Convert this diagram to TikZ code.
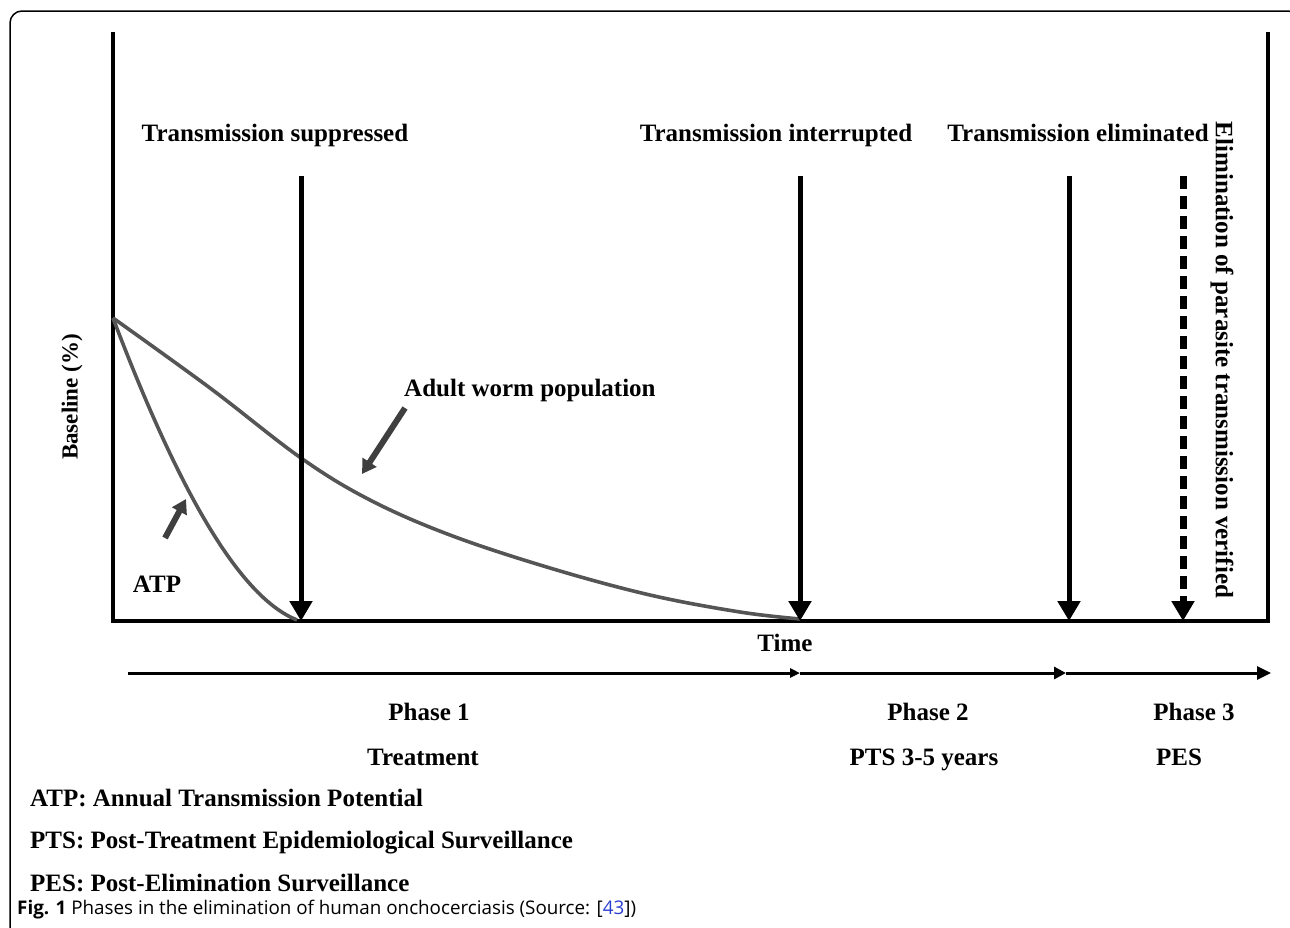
\documentclass[tikz,border=0pt]{standalone}
\usepackage{fontspec}
\setmainfont{Liberation Serif}
\newfontfamily\capfont{Open Sans}
\usetikzlibrary{arrows.meta}
\definecolor{curvegray}{HTML}{555555}
\definecolor{ptrgray}{HTML}{3F3F3F}
\definecolor{reflink}{HTML}{2A3FD0}
\tikzset{
  lbl/.style={font=\fontsize{25}{29}\selectfont\bfseries, inner sep=0pt, anchor=base},
  axisline/.style={line width=4pt, black},
  droparrow/.style={line width=5pt, black, -{Triangle[width=22pt,length=20pt]}},
  dropdashed/.style={line width=7pt, black, dash pattern=on 13pt off 7pt, -{Triangle[width=22pt,length=20pt]}},
  curve/.style={line width=3.6pt, curvegray},
  pointer/.style={line width=6pt, ptrgray, -{Triangle[width=16pt,length=14pt]}},
  timeline/.style={line width=3pt, black},
  legend/.style={font=\fontsize{25}{29}\selectfont\bfseries, inner sep=0pt, anchor=base west},
}
\begin{document}
\begin{tikzpicture}[x=1pt,y=-1pt]
\useasboundingbox (0,0) rectangle (1290,927);
\clip (0,0) rectangle (1290,927);
% outer frame
\draw[line width=1.5pt, rounded corners=12pt] (10,11) rectangle (1300,960);

% axes
\coordinate (tl) at (113,32);
\coordinate (bl) at (113,621);
\coordinate (br) at (1268,621);
\coordinate (tr) at (1268,32);
\draw[axisline] (tl) -- (bl) -- (br) -- (tr);

% top labels
\node[lbl] (tsup) at (275,141) {Transmission suppressed};
\node[lbl] (tint) at (776,141) {Transmission interrupted};
\node[lbl] (telim) at (1078,141) {Transmission eliminated};
\node[lbl, anchor=center, rotate=-90] (verif) at (1222,360) {Elimination of parasite transmission verified};
\node[lbl, anchor=center, font=\fontsize{23}{27}\selectfont\bfseries, rotate=90] (base) at (72,397) {Baseline (\%)};

% drop arrows
\coordinate (a1s) at (301,176); \coordinate (a1e) at (301,621);
\coordinate (a2s) at (800,176); \coordinate (a2e) at (800,621);
\coordinate (a3s) at (1069,176); \coordinate (a3e) at (1069,621);
\coordinate (a4s) at (1183,176); \coordinate (a4e) at (1183,621);

% curves
\draw[curve] plot[smooth, tension=0.6] coordinates {(113,318) (210,388) (301,458) (370,500) (450,535) (550,568) (650,595) (740,612) (800,619)};
\draw[curve] (113,318) .. controls (182,500) and (242,598) .. (297,620);

\draw[droparrow] (a1s) -- (a1e);
\draw[droparrow] (a2s) -- (a2e);
\draw[droparrow] (a3s) -- (a3e);
\draw[dropdashed] (a4s) -- (a4e);

% pointers
\node[lbl, anchor=base west] (adult) at (404,396) {Adult worm population};
\node[lbl] (atp) at (157,592) {ATP};
\coordinate (p1s) at (405,408); \coordinate (p1e) at (362,474);
\coordinate (p2s) at (165,538); \coordinate (p2e) at (186,499);
\draw[pointer] (p1s) -- (p1e);
\draw[pointer] (p2s) -- (p2e);

% time
\node[lbl] (time) at (785,651) {Time};
\coordinate (t0) at (128,673);
\coordinate (t1) at (800,673);
\coordinate (t2) at (1066,673);
\coordinate (t3) at (1271,673);
\draw[timeline, -{Triangle[width=9pt,length=10pt]}] (t0) -- (t1);
\draw[timeline, -{Triangle[width=12pt,length=12pt]}] (t1) -- (t2);
\draw[timeline, -{Triangle[width=13pt,length=14pt]}] (t2) -- (t3);

% phases
\node[lbl] (ph1) at (429,720) {Phase 1};
\node[lbl] (ph2) at (928,720) {Phase 2};
\node[lbl] (ph3) at (1194,720) {Phase 3};
\node[lbl] (tr1) at (423,765) {Treatment};
\node[lbl] (tr2) at (924,765) {PTS 3-5 years};
\node[lbl] (tr3) at (1179,765) {PES};

% legend
\node[legend] (lg1) at (30,806) {ATP: Annual Transmission Potential};
\node[legend] (lg2) at (30,848) {PTS: Post-Treatment Epidemiological Surveillance};
\node[legend] (lg3) at (30,891) {PES: Post-Elimination Surveillance};

% caption
\node[inner sep=0pt, anchor=west, font=\capfont\fontsize{18.8}{22}\selectfont] (cap) at (17,910) {\textbf{Fig. 1} Phases in the elimination of human onchocerciasis (Source: [\textcolor{reflink}{43}])};
\end{tikzpicture}
\end{document}
